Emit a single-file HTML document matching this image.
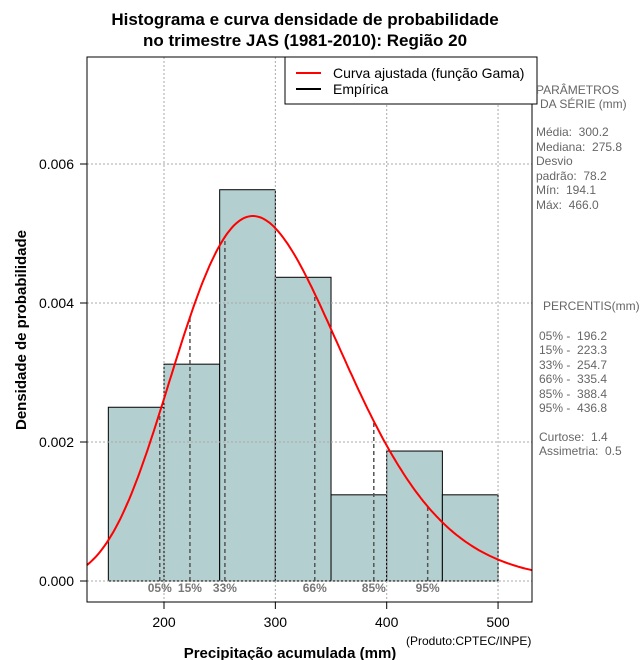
<!DOCTYPE html>
<html><head><meta charset="utf-8"><style>
body{margin:0;background:#fff;}
svg{display:block;font-family:"Liberation Sans","DejaVu Sans",sans-serif;}
text{white-space:pre;}
</style></head><body>
<svg width="640" height="660" viewBox="0 0 640 660">
<rect width="640" height="660" fill="#fff"/>
<text x="305" y="25" text-anchor="middle" font-size="17" font-weight="bold">Histograma e curva densidade de probabilidade</text>
<text x="305" y="46" text-anchor="middle" font-size="17" font-weight="bold">no trimestre JAS (1981-2010): Região 20</text>
<g id="bars"></g>
<g id="grid"></g>
<g id="pct"></g>
<path id="curve" fill="none" stroke="#ff0000" stroke-width="2"/>
<rect x="87" y="57" width="445" height="545" fill="none" stroke="#000" stroke-width="1"/>
<g id="axes"></g>
<text x="26" y="330" transform="rotate(-90 26 330)" text-anchor="middle" font-size="15" font-weight="bold">Densidade de probabilidade</text>
<text x="290" y="658" text-anchor="middle" font-size="15" font-weight="bold">Precipitação acumulada (mm)</text>
<text x="406" y="645" font-size="12">(Produto:CPTEC/INPE)</text>
<g>
<rect x="285" y="57" width="252" height="47" fill="#fff" stroke="#000"/>
<line x1="296" y1="73" x2="321" y2="73" stroke="#ff0000" stroke-width="2"/>
<text x="333" y="78" font-size="14">Curva ajustada (função Gama)</text>
<line x1="296" y1="89" x2="321" y2="89" stroke="#000" stroke-width="2"/>
<text x="333" y="94" font-size="14">Empírica</text>
</g>
<g font-size="12" fill="#666">
<text x="536" y="94">PARÂMETROS</text>
<text x="540" y="108">DA SÉRIE (mm)</text>
<text x="536" y="136">Média:  300.2</text>
<text x="536" y="151">Mediana:  275.8</text>
<text x="536" y="165">Desvio</text>
<text x="536" y="180">padrão:  78.2</text>
<text x="536" y="194">Mín:  194.1</text>
<text x="536" y="209">Máx:  466.0</text>
<text x="543" y="310">PERCENTIS(mm)</text>
<text x="539" y="340">05% -  196.2</text>
<text x="539" y="354">15% -  223.3</text>
<text x="539" y="369">33% -  254.7</text>
<text x="539" y="383">66% -  335.4</text>
<text x="539" y="398">85% -  388.4</text>
<text x="539" y="412">95% -  436.8</text>
<text x="539" y="441">Curtose:  1.4</text>
<text x="539" y="455">Assimetria:  0.5</text>
</g>
</svg>
<script>
const binEdges=[150,200,250,300,350,400,450,500];
const binDensity=[0.0025,0.00312,0.00563,0.00437,0.00124,0.00187,0.00124];
const pctLabels=["05%","15%","33%","66%","85%","95%"];
const pctValues=[196.2,223.3,254.7,335.4,388.4,436.8];
const xTicks=[200,300,400,500];
const yTicks=[0,0.002,0.004,0.006];
const yTickLabels=["0.000","0.002","0.004","0.006"];
const gammaMean=300.2, gammaSd=78.2;
const NS="http://www.w3.org/2000/svg";
const X=v=>164+(v-200)*1.1135;
const Y=v=>581-v*69500;
function mk(tag,attrs,parent){const e=document.createElementNS(NS,tag);for(const k in attrs)e.setAttribute(k,attrs[k]);document.getElementById(parent).appendChild(e);return e;}
function lgamma(z){const g=7,c=[0.99999999999980993,676.5203681218851,-1259.1392167224028,771.32342877765313,-176.61502916214059,12.507343278686905,-0.13857109526572012,9.9843695780195716e-6,1.5056327351493116e-7];z-=1;let x=c[0];for(let i=1;i<g+2;i++)x+=c[i]/(z+i);const t=z+g+0.5;return 0.5*Math.log(2*Math.PI)+(z+0.5)*Math.log(t)-t+Math.log(x);}
const k=(gammaMean/gammaSd)**2, th=gammaSd*gammaSd/gammaMean;
const dens=x=>Math.exp((k-1)*Math.log(x)-x/th-lgamma(k)-k*Math.log(th));
binDensity.forEach((d,i)=>{
 const r=mk('rect',{x:X(binEdges[i]),y:Y(d),width:X(binEdges[i+1])-X(binEdges[i]),height:Y(0)-Y(d),fill:'#b4cfcf',stroke:'#000','stroke-width':1},'bars');
 
 
});
const bl=mk('line',{x1:X(150),x2:X(500),y1:Y(0),y2:Y(0),stroke:'#000','stroke-dasharray':'1,2'},'bars');


xTicks.forEach(t=>{
 const l=mk('line',{x1:X(t),x2:X(t),y1:57,y2:602,stroke:'#aaa','stroke-dasharray':'2,2'},'grid');
 
 
 const tk=mk('line',{x1:X(t),x2:X(t),y1:602,y2:609,stroke:'#000'},'axes');
 
 
 const tx=mk('text',{x:X(t),y:627,'text-anchor':'middle','font-size':14},'axes');
 tx.textContent=t;
 
 
});
yTicks.forEach((t,i)=>{
 const l=mk('line',{x1:87,x2:532,y1:Y(t),y2:Y(t),stroke:'#aaa','stroke-dasharray':'2,2'},'grid');
 
 
 const tk=mk('line',{x1:80,x2:87,y1:Y(t),y2:Y(t),stroke:'#000'},'axes');
 
 
 const tx=mk('text',{x:74,y:Y(t)+5,'text-anchor':'end','font-size':14},'axes');
 tx.textContent=yTickLabels[i];
 
 
});
pctValues.forEach((p,i)=>{
 const l=mk('line',{x1:X(p),x2:X(p),y1:Y(0),y2:Y(dens(p)),stroke:'#555','stroke-width':1.5,'stroke-dasharray':'4,3'},'pct');
 
 
 const t=mk('text',{x:X(p),y:592,'text-anchor':'middle','font-size':12,'font-weight':'bold',fill:'#777'},'pct');
 t.textContent=pctLabels[i];
 
 
});
let d='';
for(let x=130.8;x<=530.8;x+=2){d+=(d?'L':'M')+X(x).toFixed(1)+','+Y(dens(x)).toFixed(1);}
document.getElementById('curve').setAttribute('d',d);
</script>
</body></html>
